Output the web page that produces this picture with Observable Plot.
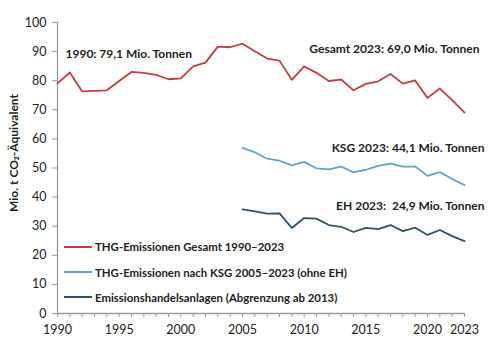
<!DOCTYPE html>
<html>
<head>
<meta charset="utf-8">
<script src="https://cdn.jsdelivr.net/npm/d3@7"></script>
<script src="https://cdn.jsdelivr.net/npm/@observablehq/plot@0.6"></script>
<style>
  html, body { margin: 0; padding: 0; background: #fff; }
  #wrap { position: relative; width: 500px; height: 348px; font-family: Lato, "Open Sans", sans-serif; }
  .lg { position: absolute; left: 64px; height: 16px; display: flex; align-items: center; font-weight: bold; font-size: 11.4px; color: #222; white-space: nowrap; }
  .lg span.sw { display: inline-block; width: 28px; height: 2px; margin-right: 3px; }
</style>
</head>
<body>
<div id="wrap"></div>
<script>
const gesamtYears = [1990,1991,1992,1993,1994,1995,1996,1997,1998,1999,2000,2001,2002,2003,2004,2005,2006,2007,2008,2009,2010,2011,2012,2013,2014,2015,2016,2017,2018,2019,2020,2021,2022,2023];
const gesamt = [79.1,82.8,76.3,76.5,76.7,79.9,83.0,82.7,82.0,80.5,80.8,84.9,86.2,91.7,91.5,92.7,90.1,87.6,86.9,80.3,84.9,82.7,79.9,80.4,76.7,78.9,79.8,82.3,79.0,80.1,74.1,77.3,73.3,69.0];
const ksgYears = [2005,2006,2007,2008,2009,2010,2011,2012,2013,2014,2015,2016,2017,2018,2019,2020,2021,2022,2023];
const ksg = [56.9,55.4,53.2,52.5,50.9,52.1,49.9,49.5,50.5,48.5,49.4,50.7,51.5,50.5,50.5,47.3,48.6,46.2,44.1];
const ehYears = ksgYears;
const eh = [35.8,35.1,34.3,34.4,29.4,32.8,32.6,30.4,29.8,28.0,29.4,29.0,30.4,28.3,29.5,27.0,28.7,26.6,24.9];
const xTickLabels = [1990,1995,2000,2005,2010,2015,2020,2023];
const yTicks = [0,10,20,30,40,50,60,70,80,90,100];
const yTitle = "Mio. t CO₂-Äquivalent";
const seriesNames = ["THG-Emissionen Gesamt 1990–2023","THG-Emissionen nach KSG 2005–2023 (ohne EH)","Emissionshandelsanlagen (Abgrenzung ab 2013)"];
const colors = ["#c43d41","#5ea6c4","#2f5468"];
const annotations = [
  {text: "1990: 79,1 Mio. Tonnen", year: 1990, value: 79.1},
  {text: "Gesamt 2023: 69,0 Mio. Tonnen", year: 2023, value: 69.0},
  {text: "KSG 2023: 44,1 Mio. Tonnen", year: 2023, value: 44.1},
  {text: "EH 2023:  24,9 Mio. Tonnen", year: 2023, value: 24.9}
];

const tG = gesamtYears.map((y,i)=>({year:y, value:gesamt[i]}));
const tK = ksgYears.map((y,i)=>({year:y, value:ksg[i]}));
const tE = ehYears.map((y,i)=>({year:y, value:eh[i]}));

const font = "Lato, 'Open Sans', sans-serif";
const txt = "#222";
const axisCol = "#9a9a9a";

const chart = Plot.plot({
  width: 500, height: 348,
  marginLeft: 57, marginRight: 36, marginTop: 22, marginBottom: 35,
  style: {fontFamily: font, fontSize: "12px", color: txt, background: "#fff"},
  x: {domain: [1990, 2023]},
  y: {domain: [0, 100]},
  marks: [
    Plot.ruleY([0], {stroke: axisCol, strokeWidth: 1.3}),
    Plot.ruleX([1990], {stroke: axisCol, strokeWidth: 1.3}),
    Plot.axisX({ticks: gesamtYears, tickSize: 4, stroke: axisCol, tickFormat: () => "", label: null}),
    Plot.axisX({ticks: xTickLabels, tickSize: 0, tickPadding: 12, tickFormat: d => String(d), label: null, fill: txt, fontSize: 12.5}),
    Plot.axisY({ticks: yTicks, tickSize: 5, tickPadding: 6, stroke: axisCol, fill: txt, label: null, fontSize: 12.5}),
    Plot.line(tG, {x: "year", y: "value", stroke: colors[0], strokeWidth: 1.8}),
    Plot.line(tK, {x: "year", y: "value", stroke: colors[1], strokeWidth: 1.8}),
    Plot.line(tE, {x: "year", y: "value", stroke: colors[2], strokeWidth: 1.8}),
    Plot.text([annotations[0]], {x: "year", y: "value", text: "text", textAnchor: "start", dx: 8, dy: -29, fontWeight: "bold", fill: txt, fontSize: 12}),
    Plot.text([annotations[1]], {x: "year", y: "value", text: "text", textAnchor: "end", dx: 15, dy: -64, fontWeight: "bold", fill: txt, fontSize: 12}),
    Plot.text([annotations[2]], {x: "year", y: "value", text: "text", textAnchor: "end", dx: 20, dy: -37, fontWeight: "bold", fill: txt, fontSize: 12}),
    Plot.text([annotations[3]], {x: "year", y: "value", text: "text", textAnchor: "end", dx: 20, dy: -35, fontWeight: "bold", fill: txt, fontSize: 12})
  ]
});
d3.select(chart).append("text")
  .attr("transform", "translate(18,153) rotate(-90)")
  .attr("text-anchor", "middle")
  .attr("font-weight", "bold")
  .attr("font-size", 12)
  .attr("fill", txt)
  .text(yTitle);
const wrap = document.getElementById("wrap");
wrap.appendChild(chart);
const centers = [246.7, 272.3, 297.3];
seriesNames.forEach((n, i) => {
  const d = document.createElement("div");
  d.className = "lg";
  d.style.top = (centers[i] - 8) + "px";
  const sw = document.createElement("span");
  sw.className = "sw";
  sw.style.background = colors[i];
  d.appendChild(sw);
  d.appendChild(document.createTextNode(n));
  wrap.appendChild(d);
});
</script>
</body>
</html>
